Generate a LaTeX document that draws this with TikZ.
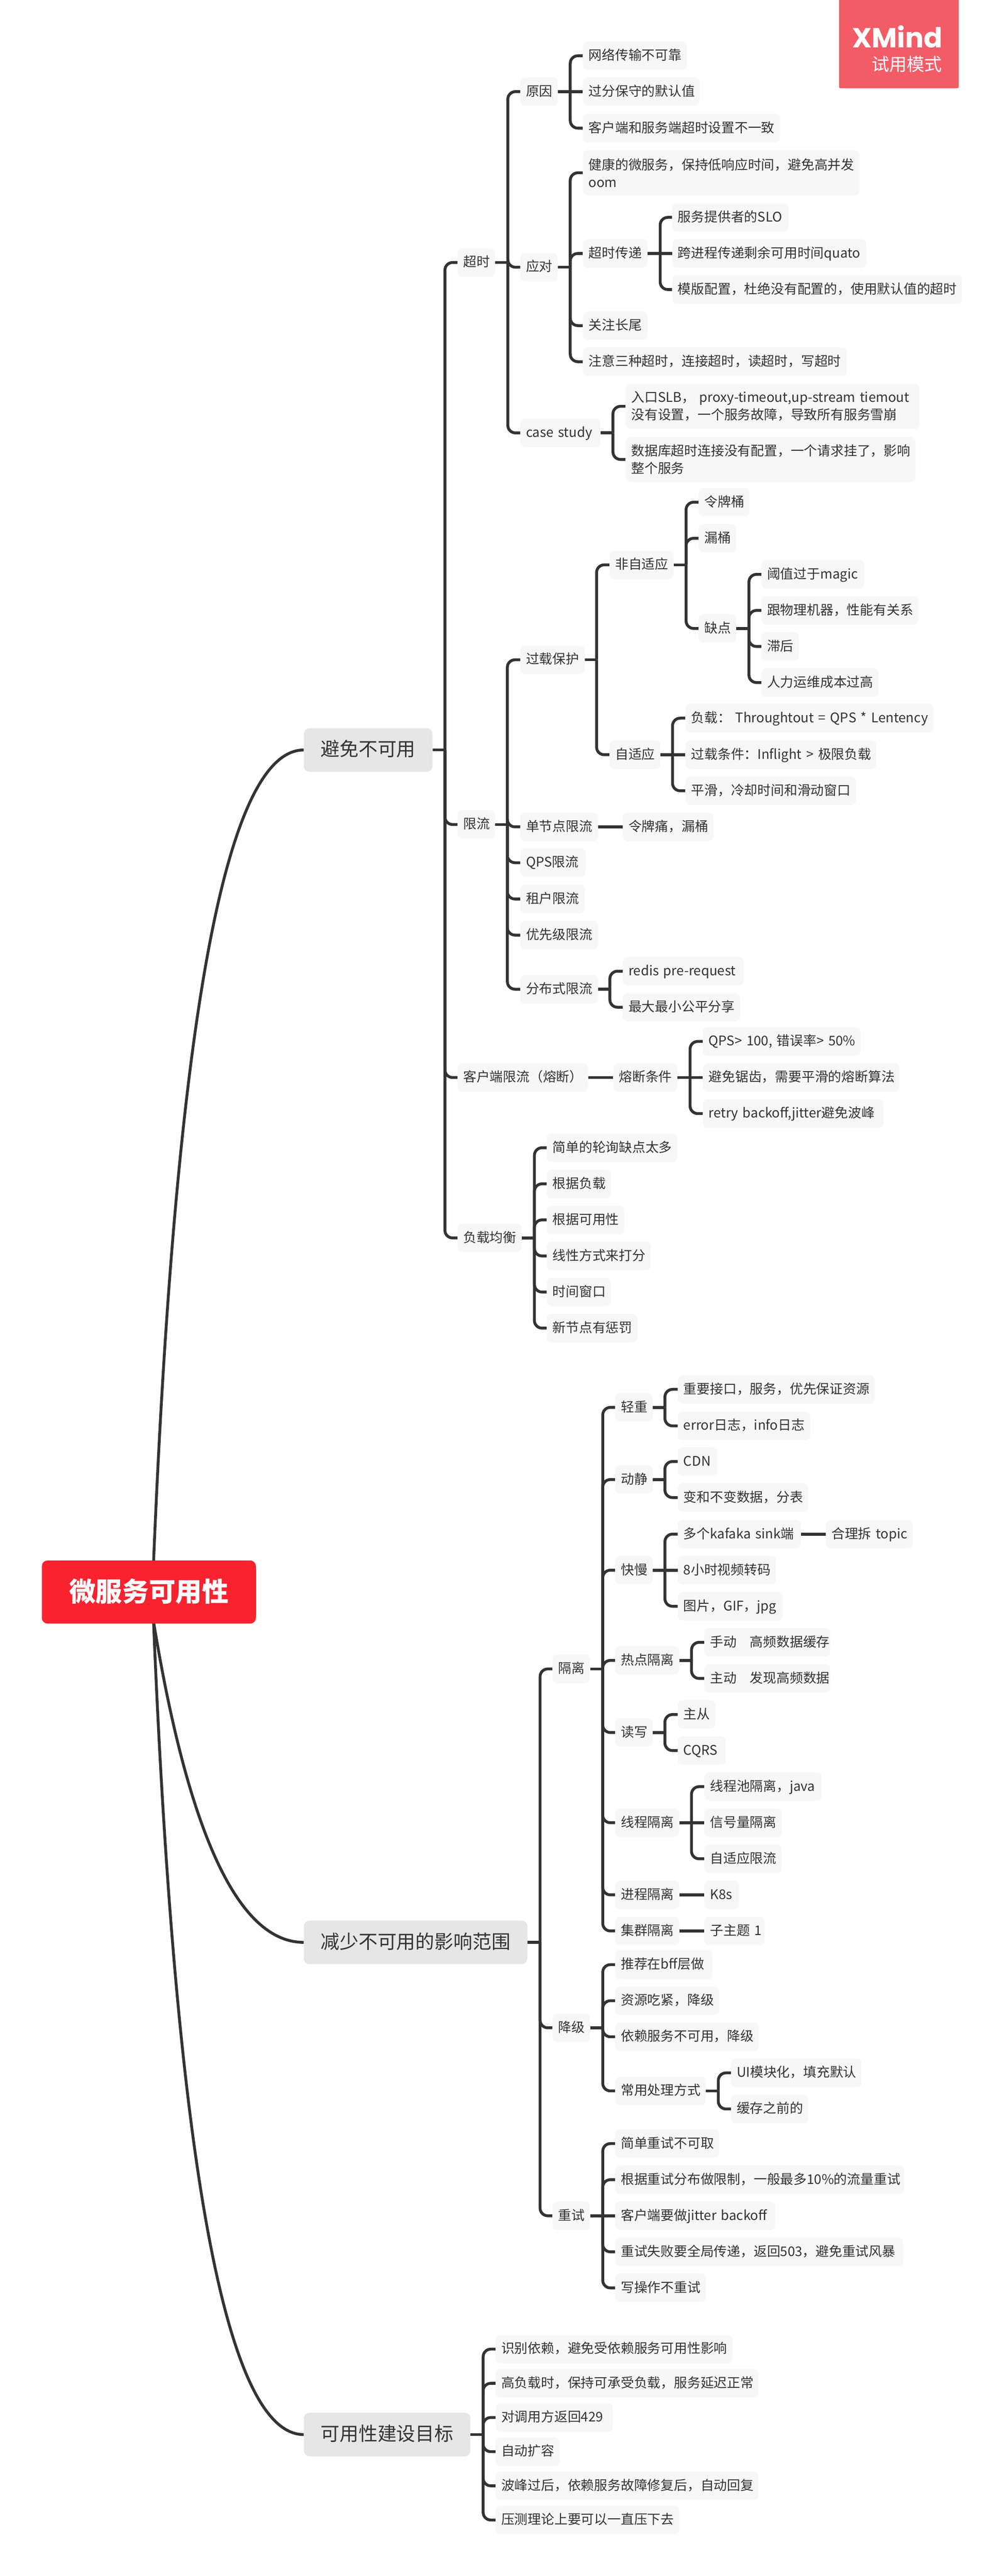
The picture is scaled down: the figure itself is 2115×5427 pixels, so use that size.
\documentclass[tikz,border=0pt]{standalone}
\usepackage{fontspec}
\setmainfont{Noto Sans CJK SC}
\newfontfamily\markfont{Poppins}
\usetikzlibrary{backgrounds}
\definecolor{leafc}{HTML}{F7F7F7}
\definecolor{mainc}{HTML}{E6E6E6}
\definecolor{linec}{HTML}{333333}
\definecolor{rootc}{HTML}{F9222F}
\definecolor{markc}{HTML}{F25C67}
\tikzset{
  w/.style={text width=#1pt-24pt},
  leaf/.style={anchor=west,fill=leafc,rounded corners=10pt,inner xsep=12pt,inner ysep=0pt,minimum height=60pt,
    text=linec,font=\fontsize{28}{37}\selectfont,text height=23pt,text depth=5pt},
  leaftwo/.style={anchor=west,fill=leafc,rounded corners=10pt,inner xsep=12pt,inner ysep=0pt,minimum height=95pt,
    text=linec,font=\fontsize{28}{37}\selectfont,align=left},
  maintopic/.style={anchor=west,fill=mainc,rounded corners=12pt,inner sep=0pt,minimum height=92pt,
    text=linec,font=\fontsize{40}{48}\selectfont,text height=33pt,text depth=7pt},
  roottopic/.style={anchor=west,fill=rootc,rounded corners=12pt,inner sep=0pt,minimum height=133pt,minimum width=451pt,
    text=white,font=\fontsize{56}{64}\selectfont\bfseries,text height=48pt,text depth=8pt},
  conn/.style={draw=linec,line width=6pt,rounded corners=16pt},
  trunk/.style={draw=linec,line width=6pt},
  marktext/.style={text=white,anchor=east,inner sep=0pt}
}
\begin{document}
\begin{tikzpicture}[x=1pt,y=-1pt]
\useasboundingbox (0,0) rectangle (2115,5427);

\node[roottopic] (root) at (88,3354) {微服务可用性};
\node[maintopic,minimum width=271pt] (m1) at (640,1580) {避免不可用};
\node[maintopic,minimum width=471pt] (m2) at (640,4092) {减少不可用的影响范围};
\node[maintopic,minimum width=351pt] (m3) at (640,5129) {可用性建设目标};

% 超时
\node[leaf,w=79] (t) at (964,553) {超时};
\node[leaf,w=79] (ty) at (1096,193) {原因};
\node[leaf,w=219] (ty1) at (1228,117.5) {网络传输不可靠};
\node[leaf,w=246] (ty2) at (1228,193) {过分保守的默认值};
\node[leaf,w=415] (ty3) at (1228,270) {客户端和服务端超时设置不一致};
\node[leaf,w=79] (td) at (1096,563) {应对};
\node[leaftwo,text width=559pt] (td1) at (1228,364) {健康的微服务，保持低响应时间，避免高并发\\oom};
\node[leaf,w=136] (td2) at (1228,534) {超时传递};
\node[leaf,w=245] (td21) at (1416,458) {服务提供者的SLO};
\node[leaf,w=409] (td22) at (1416,534) {跨进程传递剩余可用时间quato};
\node[leaf,w=611] (td23) at (1416,610) {模版配置，杜绝没有配置的，使用默认值的超时};
\node[leaf,w=136] (td3) at (1228,686) {关注长尾};
\node[leaf,w=556] (td4) at (1228,762) {注意三种超时，连接超时，读超时，写超时};
\node[leaf,w=169] (tc) at (1096,912) {case~study};
\node[leaftwo,text width=595pt] (tc1) at (1318,856) {入口SLB， proxy-timeout,up-stream tiemout\\没有设置，一个服务故障，导致所有服务雪崩};
\node[leaftwo,text width=587pt] (tc2) at (1318,968) {数据库超时连接没有配置，一个请求挂了，影响\\整个服务};

% 限流
\node[leaf,w=79] (x) at (964,1737) {限流};
\node[leaf,w=136] (xg) at (1096,1390) {过载保护};
\node[leaf,w=135] (xgn) at (1284,1190) {非自适应};
\node[leaf,w=107] (xgn1) at (1472,1058) {令牌桶};
\node[leaf,w=79] (xgn2) at (1472,1134) {漏桶};
\node[leaf,w=79] (xgn3) at (1472,1324) {缺点};
\node[leaf,w=217] (xq1) at (1604,1210) {阈值过于magic};
\node[leaf,w=331] (xq2) at (1604,1286) {跟物理机器，性能有关系};
\node[leaf,w=79] (xq3) at (1604,1362) {滞后};
\node[leaf,w=247] (xq4) at (1604,1438) {人力运维成本过高};
\node[leaf,w=107] (xga) at (1284,1590) {自适应};
\node[leaf,w=523] (xga1) at (1444,1513) {负载：~Throughtout~=~QPS~*~Lentency};
\node[leaf,w=402] (xga2) at (1444,1590) {过载条件：Inflight~>~极限负载};
\node[leaf,w=359] (xga3) at (1444,1666) {平滑，冷却时间和滑动窗口};
\node[leaf,w=164] (xd) at (1096,1742) {单节点限流};
\node[leaf,w=191] (xd1) at (1312,1742) {令牌痛，漏桶};
\node[leaf,w=138] (xq) at (1096,1817.5) {QPS限流};
\node[leaf,w=136] (xz) at (1096,1894) {租户限流};
\node[leaf,w=164] (xy) at (1096,1970) {优先级限流};
\node[leaf,w=164] (xf) at (1096,2084) {分布式限流};
\node[leaf,w=255] (xf1) at (1312,2046) {redis~pre-request};
\node[leaf,w=247] (xf2) at (1312,2122) {最大最小公平分享};

% 客户端限流
\node[leaf,w=275] (k) at (964,2270) {客户端限流（熔断）};
\node[leaf,w=135] (k1) at (1292,2270) {熔断条件};
\node[leaf,w=332] (k11) at (1481,2194) {QPS>~100,~错误率>~50\%};
\node[leaf,w=414] (k12) at (1481,2270) {避免锯齿，需要平滑的熔断算法};
\node[leaf,w=380] (k13) at (1481,2346) {retry~backoff,jitter避免波峰};

% 负载均衡
\node[leaf,w=135] (f) at (964,2608) {负载均衡};
\node[leaf,w=275] (f1) at (1152,2418) {简单的轮询缺点太多};
\node[leaf,w=135] (f2) at (1152,2494) {根据负载};
\node[leaf,w=163] (f3) at (1152,2570) {根据可用性};
\node[leaf,w=219] (f4) at (1152,2646) {线性方式来打分};
\node[leaf,w=135] (f5) at (1152,2722) {时间窗口};
\node[leaf,w=191] (f6) at (1152,2798) {新节点有惩罚};

% 隔离
\node[leaf,w=79] (g) at (1164,3516) {隔离};
\node[leaf,w=79] (g1) at (1296,2965) {轻重};
\node[leaf,w=415] (g11) at (1428,2927) {重要接口，服务，优先保证资源};
\node[leaf,w=279] (g12) at (1428,3004) {error日志，info日志};
\node[leaf,w=79] (g2) at (1296,3117) {动静};
\node[leaf,w=83] (g21) at (1428,3079) {CDN};
\node[leaf,w=275] (g22) at (1428,3155) {变和不变数据，分表};
\node[leaf,w=79] (g3) at (1296,3308) {快慢};
\node[leaf,w=259] (g31) at (1428,3232) {多个kafaka~sink端};
\node[leaf,w=183] (g311) at (1740,3232) {合理拆~topic};
\node[leaf,w=207] (g32) at (1428,3308) {8小时视频转码};
\node[leaf,w=221] (g33) at (1428,3384) {图片，GIF，jpg};
\node[leaf,w=135] (g4) at (1296,3498) {热点隔离};
\node[leaf,w=265] (g41) at (1484,3460) {手动~~~高频数据缓存};
\node[leaf,w=265] (g42) at (1484,3536) {主动~~~发现高频数据};
\node[leaf,w=79] (g5) at (1296,3650) {读写};
\node[leaf,w=79] (g51) at (1428,3612) {主从};
\node[leaf,w=101] (g52) at (1428,3688) {CQRS};
\node[leaf,w=135] (g6) at (1296,3840) {线程隔离};
\node[leaf,w=247] (g61) at (1484,3764) {线程池隔离，java};
\node[leaf,w=163] (g62) at (1484,3840) {信号量隔离};
\node[leaf,w=163] (g63) at (1484,3916) {自适应限流};
\node[leaf,w=135] (g7) at (1296,3992) {进程隔离};
\node[leaf,w=73] (g71) at (1484,3992) {K8s};
\node[leaf,w=135] (g8) at (1296,4068) {集群隔离};
\node[leaf,w=127] (g81) at (1484,4068) {子主题~1};

% 降级
\node[leaf,w=79] (j) at (1164,4272) {降级};
\node[leaf,w=205] (j1) at (1296,4139) {推荐在bff层做};
\node[leaf,w=219] (j2) at (1296,4215) {资源吃紧，降级};
\node[leaf,w=303] (j3) at (1296,4291) {依赖服务不可用，降级};
\node[leaf,w=191] (j4) at (1296,4405) {常用处理方式};
\node[leaf,w=275] (j41) at (1540,4367) {UI模块化，填充默认};
\node[leaf,w=163] (j42) at (1540,4443) {缓存之前的};

% 重试
\node[leaf,w=79] (c) at (1164,4668) {重试};
\node[leaf,w=219] (c1) at (1296,4516) {简单重试不可取};
\node[leaf,w=609] (c2) at (1296,4592) {根据重试分布做限制，一般最多10\%的流量重试};
\node[leaf,w=337] (c3) at (1296,4668) {客户端要做jitter~backoff};
\node[leaf,w=607] (c4) at (1296,4744) {重试失败要全局传递，返回503，避免重试风暴};
\node[leaf,w=191] (c5) at (1296,4820) {写操作不重试};

% 可用性建设目标
\node[leaf,w=499] (z1) at (1044,4949) {识别依赖，避免受依赖服务可用性影响};
\node[leaf,w=554] (z2) at (1044,5021) {高负载时，保持可承受负载，服务延迟正常};
\node[leaf,w=247] (z3) at (1044,5093) {对调用方返回429};
\node[leaf,w=135] (z4) at (1044,5165) {自动扩容};
\node[leaf,w=554] (z5) at (1044,5237) {波峰过后，依赖服务故障修复后，自动回复};
\node[leaf,w=387] (z6) at (1044,5309) {压测理论上要可以一直压下去};

% watermark
\path[fill=markc,rounded corners=3pt] (1768,-10) rectangle (2020,186);
\node[marktext,font=\fontsize{58}{64}\markfont\selectfont\bfseries] (mk1) at (1986,77) {XMind};
\node[marktext,font=\fontsize{37}{42}\selectfont] (mk2) at (1985,135) {试用模式};

\begin{scope}[on background layer]
  \fill[white] (0,0) rectangle (2115,5427);
  % curves from the root
  \coordinate (cA1) at (367,2171);
  \coordinate (cA2) at (473,1580);
  \coordinate (cB1) at (388,3846);
  \coordinate (cB2) at (497,4092);
  \coordinate (cC1) at (367,4537);
  \coordinate (cC2) at (473,5129);
  \coordinate (rc) at (root.center);
  \coordinate (rd) at (321,3354);
  \draw[trunk] (rd) .. controls (cA1) and (cA2) .. (m1.west);
  \draw[trunk] (rc) .. controls (cB1) and (cB2) .. (m2.west);
  \draw[trunk] (rd) .. controls (cC1) and (cC2) .. (m3.west);

  % spine junctions
  \coordinate (sm1) at (937.5,1580);
  \coordinate (sm2) at (1138,4092);
  \coordinate (sm3) at (1018,5129);
  \coordinate (st) at (1070,553);
  \coordinate (sty) at (1201.5,193);
  \coordinate (std) at (1201.5,563);
  \coordinate (std2) at (1391,534);
  \coordinate (stc) at (1291.5,912);
  \coordinate (sx) at (1069,1737);
  \coordinate (sxg) at (1257,1390);
  \coordinate (sxgn) at (1445.5,1190);
  \coordinate (sxgn3) at (1578,1324);
  \coordinate (sxga) at (1417,1590);
  \coordinate (sxf) at (1285,2084);
  \coordinate (sk1) at (1454,2270);
  \coordinate (sf) at (1126,2608);
  \coordinate (sg) at (1270,3516);
  \coordinate (sg1) at (1401,2965);
  \coordinate (sg2) at (1401,3117);
  \coordinate (sg3) at (1401,3308);
  \coordinate (sg4) at (1457,3498);
  \coordinate (sg5) at (1401,3650);
  \coordinate (sg6) at (1457,3840);
  \coordinate (sj) at (1270,4272);
  \coordinate (sj4) at (1513.5,4405);
  \coordinate (sc) at (1270,4668);

  \foreach \p/\s in {m1/sm1,m2/sm2,m3/sm3,t/st,ty/sty,td/std,td2/std2,tc/stc,x/sx,xg/sxg,xgn/sxgn,xgn3/sxgn3,xga/sxga,xf/sxf,k1/sk1,f/sf,g/sg,g1/sg1,g2/sg2,g3/sg3,g4/sg4,g5/sg5,g6/sg6,j/sj,j4/sj4,c/sc}
    {\draw[trunk] (\p.east) -- (\s);}

  \foreach \s/\c in {sm1/t,sm1/x,sm1/k,sm1/f,sm2/g,sm2/j,sm2/c,
    sm3/z1,sm3/z2,sm3/z3,sm3/z4,sm3/z5,sm3/z6,
    st/ty,st/td,st/tc,sty/ty1,sty/ty3,std/td1,std/td2,std/td3,std/td4,std2/td21,std2/td23,stc/tc1,stc/tc2,
    sx/xg,sx/xd,sx/xq,sx/xz,sx/xy,sx/xf,sxg/xgn,sxg/xga,sxgn/xgn1,sxgn/xgn2,sxgn/xgn3,
    sxgn3/xq1,sxgn3/xq2,sxgn3/xq3,sxgn3/xq4,sxga/xga1,sxga/xga3,sxf/xf1,sxf/xf2,sk1/k11,sk1/k13,
    sf/f1,sf/f2,sf/f3,sf/f4,sf/f5,sf/f6,
    sg/g1,sg/g2,sg/g3,sg/g4,sg/g5,sg/g6,sg/g7,sg/g8,sg1/g11,sg1/g12,sg2/g21,sg2/g22,sg3/g31,sg3/g33,
    sg4/g41,sg4/g42,sg5/g51,sg5/g52,sg6/g61,sg6/g63,
    sj/j1,sj/j2,sj/j3,sj/j4,sj4/j41,sj4/j42,sc/c1,sc/c2,sc/c4,sc/c5}
    {\draw[conn] (\s) |- (\c.west);}

  % straight connectors
  \foreach \a/\b in {ty/ty2,td2/td22,xd/xd1,k/k1,k1/k12,xga/xga2,g3/g32,g31/g311,g6/g62,g7/g71,g8/g81,c/c3}
    {\draw[trunk] (\a.east) -- (\b.west);}
\end{scope}
\end{tikzpicture}
\end{document}
